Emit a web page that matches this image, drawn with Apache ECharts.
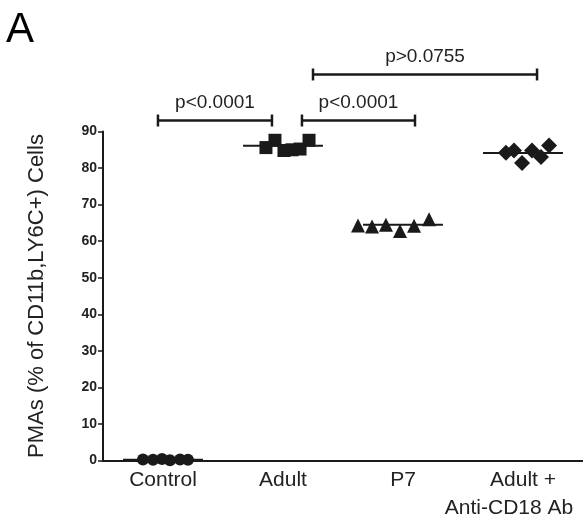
<!DOCTYPE html>
<html>
<head>
<meta charset="utf-8">
<script src="https://cdn.jsdelivr.net/npm/echarts@6/dist/echarts.min.js"></script>
<style>
  html, body { margin: 0; padding: 0; background: #fff; }
  #chart { width: 583px; height: 523px; }
</style>
</head>
<body>
<div id="chart"></div>
<script>
// groups on the x axis
const categories = ['Control', 'Adult', 'P7', 'Adult +\nAnti-CD18 Ab'];
const yTicks = [0, 10, 20, 30, 40, 50, 60, 70, 80, 90];

// points [x position (group index + jitter), value]
const controlPts = [[0.833, 0.3], [0.917, 0.2], [0.992, 0.4], [1.058, 0.1], [1.142, 0.3], [1.208, 0.2]];
const adultPts = [[1.858, 85.6], [1.933, 87.6], [2.008, 84.8], [2.075, 85.0], [2.142, 85.2], [2.217, 87.6]];
const p7Pts = [[2.625, 64.3], [2.742, 64.0], [2.858, 64.5], [2.975, 62.8], [3.092, 64.2], [3.217, 66.0]];
const antiPts = [[3.858, 84.2], [3.925, 84.8], [3.992, 81.4], [4.075, 84.8], [4.150, 83.0], [4.217, 86.2]];

// group means (horizontal bars)
const means = [[1, 0.2], [2, 86.1], [3, 64.5], [4, 84.1]];

// significance brackets [from x, to x, height, label]
const brackets = [
  [0.958, 1.908, 93.0, 'p<0.0001'],
  [2.158, 3.100, 93.0, 'p<0.0001'],
  [2.250, 4.117, 105.6, 'p>0.0755']
];

const ink = '#1a1a1a';
const font = 'Liberation Sans, Arial, sans-serif';

const myChart = echarts.init(document.getElementById('chart'));

function pts(name, data, symbol, size) {
  return {
    name: name,
    type: 'scatter',
    xAxisIndex: 1,
    data: data,
    symbol: symbol,
    symbolSize: size,
    itemStyle: { color: ink, opacity: 1 },
    z: 3
  };
}

const option = {
  animation: false,
  title: {
    text: 'A',
    left: 6,
    top: 9,
    padding: 0,
    textStyle: { fontSize: 42, fontWeight: 'normal', color: '#000', fontFamily: font }
  },
  grid: { left: 103, right: 0, top: 131.5, bottom: 62.5, outerBoundsMode: 'none', containLabel: false },
  xAxis: [{
    type: 'category',
    data: categories,
    axisLine: { lineStyle: { color: ink, width: 2 } },
    axisTick: { alignWithLabel: true, length: 5, lineStyle: { color: ink, width: 1.5 } },
    axisLabel: {
      interval: 0, color: '#222', fontSize: 21, fontFamily: font, margin: 6, lineHeight: 28,
      formatter: function (v) {
        const parts = v.split('\n');
        return parts.length > 1 ? '{a|' + parts[0] + '}\n{b|' + parts[1] + '}' : v;
      },
      rich: {
        a: { fontSize: 21, fontFamily: font, color: '#222', lineHeight: 28 },
        b: { fontSize: 21, fontFamily: font, color: '#222', lineHeight: 28, padding: [0, 28, 0, 0] }
      }
    },
    splitLine: { show: false }
  }, {
    type: 'value',
    min: 0.5,
    max: 4.5,
    show: false
  }],
  yAxis: {
    type: 'value',
    min: 0,
    max: 90,
    interval: 10,
    name: 'PMAs (% of CD11b,LY6C+) Cells',
    nameLocation: 'middle',
    nameRotate: 90,
    nameGap: 55,
    nameTextStyle: { fontSize: 22, color: '#222', fontFamily: font },
    axisLine: { show: true, lineStyle: { color: ink, width: 2 } },
    axisTick: { show: true, length: 5, lineStyle: { color: ink, width: 1.5 } },
    axisLabel: {
      color: '#222', fontSize: 14, fontWeight: 'bold', fontFamily: font, margin: 6,
      formatter: function (v) { return yTicks.indexOf(v) >= 0 ? String(v) : ''; }
    },
    splitLine: { show: false }
  },
  series: [
    {
      name: 'mean',
      type: 'custom',
      xAxisIndex: 1,
      data: means,
      z: 2,
      renderItem: function (params, api) {
        const x = api.value(0), y = api.value(1);
        const a = api.coord([x - 0.333, y]);
        const b = api.coord([x + 0.333, y]);
        return {
          type: 'line',
          shape: { x1: a[0], y1: a[1], x2: b[0], y2: b[1] },
          style: { stroke: ink, lineWidth: 2 }
        };
      }
    },
    pts('Control', controlPts, 'circle', 12),
    pts('Adult', adultPts, 'rect', 13),
    pts('P7', p7Pts, 'triangle', 14),
    pts('Adult + Anti-CD18 Ab', antiPts, 'diamond', 16),
    {
      name: 'brackets',
      type: 'custom',
      xAxisIndex: 1,
      clip: false,
      data: brackets,
      renderItem: function (params, api) {
        const d = brackets[params.dataIndex];
        const a = api.coord([d[0], d[2]]);
        const b = api.coord([d[1], d[2]]);
        const st = { stroke: ink, lineWidth: 2.5 };
        return {
          type: 'group',
          children: [
            { type: 'line', shape: { x1: a[0], y1: a[1], x2: b[0], y2: b[1] }, style: st },
            { type: 'line', shape: { x1: a[0], y1: a[1] - 6, x2: a[0], y2: a[1] + 6 }, style: st },
            { type: 'line', shape: { x1: b[0], y1: b[1] - 6, x2: b[0], y2: b[1] + 6 }, style: st },
            {
              type: 'text',
              style: {
                text: d[3], x: (a[0] + b[0]) / 2, y: a[1] - 8,
                align: 'center', verticalAlign: 'bottom',
                fontSize: 19, fontFamily: font, fill: '#222'
              }
            }
          ]
        };
      }
    }
  ]
};

myChart.setOption(option);
</script>
</body>
</html>
